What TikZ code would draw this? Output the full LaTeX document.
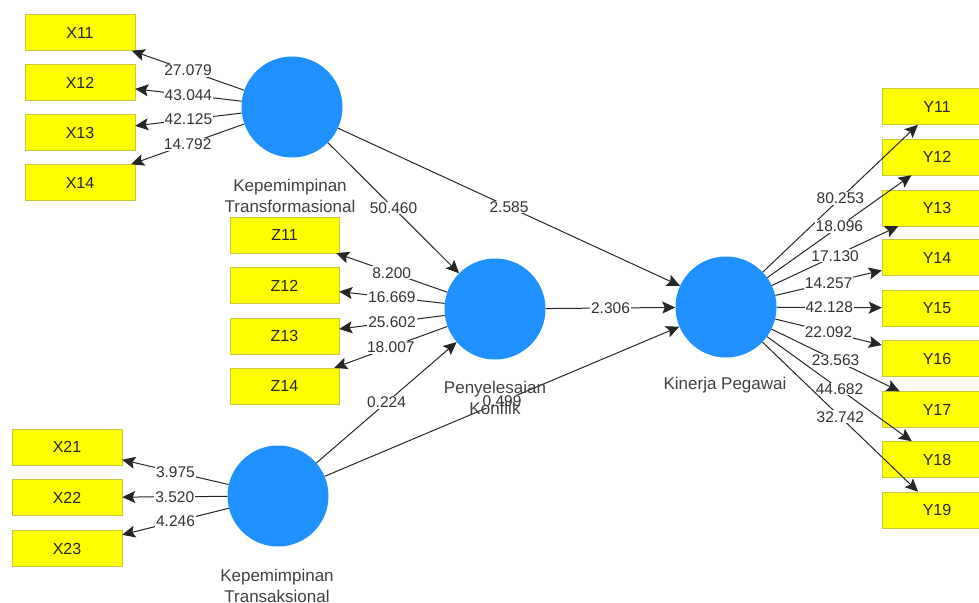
\documentclass[tikz,border=0pt]{standalone}
\usepackage{fontspec}
\setmainfont{Liberation Sans}
\usetikzlibrary{arrows.meta}
\definecolor{boxyellow}{RGB}{255,255,0}
\definecolor{boxborder}{RGB}{200,200,60}
\definecolor{latentblue}{RGB}{30,144,255}
\begin{document}
\begin{tikzpicture}[x=1pt,y=-1pt,
  ind/.style={draw=boxborder, fill=boxyellow, minimum width=110pt, minimum height=36pt, inner sep=0pt, font=\fontsize{16}{18}\selectfont, text=black!85},
  lat/.style={circle, fill=latentblue, minimum size=101pt, inner sep=0pt},
  conn/.style={draw=black!85, line width=1pt, -{Stealth[length=13pt,width=12pt,inset=2.5pt]}},
  val/.style={fill=white, inner sep=1pt, font=\fontsize{15.5}{17}\selectfont, text=black!80},
  latlab/.style={font=\fontsize{17}{21}\selectfont, text=black!75, align=center, inner sep=0pt}
]
\useasboundingbox (0,0) rectangle (979,602);
\clip (0,0) rectangle (979,602);

% latent variables
\node[lat] (KT) at (292,107) {};
\node[lat] (PK) at (495,309) {};
\node[lat] (KP) at (726,307) {};
\node[lat] (KTr) at (278,496) {};

% indicators X1
\node[ind] (X11) at (80,32.5) {X11};
\node[ind] (X12) at (80,82.5) {X12};
\node[ind] (X13) at (80,132.5) {X13};
\node[ind] (X14) at (80,182.5) {X14};
% indicators Z
\node[ind, minimum width=109pt] (Z11) at (284.5,235) {Z11};
\node[ind, minimum width=109pt] (Z12) at (284.5,285.5) {Z12};
\node[ind, minimum width=109pt] (Z13) at (284.5,336) {Z13};
\node[ind, minimum width=109pt] (Z14) at (284.5,386) {Z14};
% indicators X2
\node[ind] (X21) at (67,447) {X21};
\node[ind] (X22) at (67,497.5) {X22};
\node[ind] (X23) at (67,548.5) {X23};
% indicators Y
\node[ind] (Y11) at (937,106.5) {Y11};
\node[ind] (Y12) at (937,157) {Y12};
\node[ind] (Y13) at (937,208) {Y13};
\node[ind] (Y14) at (937,257.5) {Y14};
\node[ind] (Y15) at (937,308) {Y15};
\node[ind] (Y16) at (937,358.5) {Y16};
\node[ind] (Y17) at (937,409.5) {Y17};
\node[ind] (Y18) at (937,459.5) {Y18};
\node[ind] (Y19) at (937,510) {Y19};

% outer loadings
\draw[conn] (KT) -- node[val]{27.079} (X11);
\draw[conn] (KT) -- node[val]{43.044} (X12);
\draw[conn] (KT) -- node[val]{42.125} (X13);
\draw[conn] (KT) -- node[val]{14.792} (X14);

\draw[conn] (PK) -- node[val]{8.200} (Z11);
\draw[conn] (PK) -- node[val]{16.669} (Z12);
\draw[conn] (PK) -- node[val]{25.602} (Z13);
\draw[conn] (PK) -- node[val]{18.007} (Z14);

\draw[conn] (KTr) -- node[val]{3.975} (X21);
\draw[conn] (KTr) -- node[val]{3.520} (X22);
\draw[conn] (KTr) -- node[val]{4.246} (X23);

\draw[conn] (KP) -- node[val]{80.253} (Y11);
\draw[conn] (KP) -- node[val]{18.096} (Y12);
\draw[conn] (KP) -- node[val]{17.130} (Y13);
\draw[conn] (KP) -- node[val]{14.257} (Y14);
\draw[conn] (KP) -- node[val]{42.128} (Y15);
\draw[conn] (KP) -- node[val]{22.092} (Y16);
\draw[conn] (KP) -- node[val]{23.563} (Y17);
\draw[conn] (KP) -- node[val]{44.682} (Y18);
\draw[conn] (KP) -- node[val]{32.742} (Y19);

% structural paths
\draw[conn] (KT) -- node[val]{50.460} (PK);
\draw[conn] (KT) -- node[val]{2.585} (KP);
\draw[conn] (PK) -- node[val]{2.306} (KP);
\draw[conn] (KTr) -- node[val]{0.224} (PK);
\draw[conn] (KTr) -- node[val]{0.499} (KP);

% latent labels
\node[latlab] (KTlab) at (290,196) {Kepemimpinan\\Transformasional};
\node[latlab] (PKlab) at (495,398) {Penyelesaian\\Konflik};
\node[latlab] (KPlab) at (725,385) {Kinerja Pegawai};
\node[latlab] (KTrlab) at (277,586) {Kepemimpinan\\Transaksional};
\end{tikzpicture}
\end{document}
